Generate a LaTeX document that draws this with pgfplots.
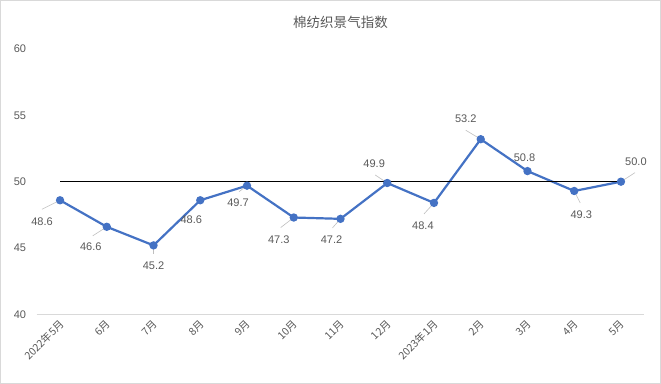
\documentclass[border=0pt]{standalone}
\usepackage{pgfplots}
\pgfplotsset{compat=1.18}
\usepackage{pgfplotstable}
\usepackage{fontspec}
\setmainfont{Liberation Sans}
\newfontfamily\cjk{Noto Sans CJK SC}
\definecolor{txt}{HTML}{595959}
\definecolor{ser}{HTML}{4472C4}
\definecolor{frame}{HTML}{D9D9D9}
\definecolor{lead}{HTML}{BFBFBF}

\pgfplotstableread{
x y lx ly ex ey
0 48.6 -0.386 -1.585 -0.386 -0.679
1 46.6 -0.343 -1.509 -0.300 -0.679
2 45.2 0.000 -1.509 0.000 -0.679
3 48.6 -0.193 -1.434 -0.171 -0.604
4 49.7 -0.193 -1.283 -0.171 -0.453
5 47.3 -0.321 -1.660 -0.279 -0.755
6 47.2 -0.193 -1.585 -0.171 -0.679
7 49.9 -0.279 1.434 -0.257 0.604
8 48.4 -0.236 -1.736 -0.214 -0.830
9 53.2 -0.321 1.509 -0.321 0.679
10 50.8 -0.064 0.981 0.000 0.000
11 49.3 0.150 -1.811 0.129 -0.906
12 50.0 0.321 1.509 0.300 0.679
}\data

\begin{document}
\begin{tikzpicture}
\begin{axis}[
  scale only axis, width=606.7pt, height=265pt,
  xmin=-0.5, xmax=12.5, ymin=40, ymax=60,
  ytick={40,45,50,55,60},
  xtick={0,...,12},
  xticklabels={2022年5月,6月,7月,8月,9月,10月,11月,12月,2023年1月,2月,3月,4月,5月},
  axis line style={draw=none},
  major tick length=0pt,
  clip=false,
  yticklabel style={font=\fontsize{11}{13}\selectfont, text=txt, xshift=-7pt},
  xticklabel style={font=\cjk\fontsize{10.5}{12}\selectfont, text=txt, rotate=45, anchor=east, yshift=-7pt, xshift=-1pt},
  /pgf/number format/assume math mode=true,
]
\draw[frame, line width=0.8pt] (axis cs:-0.5,40) -- (axis cs:12.5,40);
\draw[frame, line width=0.8pt] (axis description cs:-0.0597,-0.2585) rectangle (axis description cs:1.0268,1.183);
\node[font=\cjk\fontsize{13.5}{15}\selectfont, text=txt] at (axis description cs:0.5,1.102) {棉纺织景气指数};
\addplot[draw=lead, line width=0.6pt, mark=none, quiver={u=\thisrow{ex}, v=\thisrow{ey}}] table[x=x, y=y] {\data};
\addplot[ser, line width=2.2pt, mark=*, mark size=3pt, mark options={fill=ser, draw=ser}] table[x=x, y=y] {\data};
\addplot[black, line width=1.2pt, mark=none] coordinates {(0,50) (12,50)};
\addplot[draw=none, mark=none, point meta=explicit,
  nodes near coords={\pgfmathprintnumber[fixed, fixed zerofill, precision=1]{\pgfplotspointmeta}},
  nodes near coords align={center},
  every node near coord/.append style={font=\fontsize{11}{13}\selectfont, text=txt, anchor=center, inner sep=0pt}]
  table[x expr=\thisrow{x}+\thisrow{lx}, y expr=\thisrow{y}+\thisrow{ly}, meta=y] {\data};
\end{axis}
\end{tikzpicture}
\end{document}
